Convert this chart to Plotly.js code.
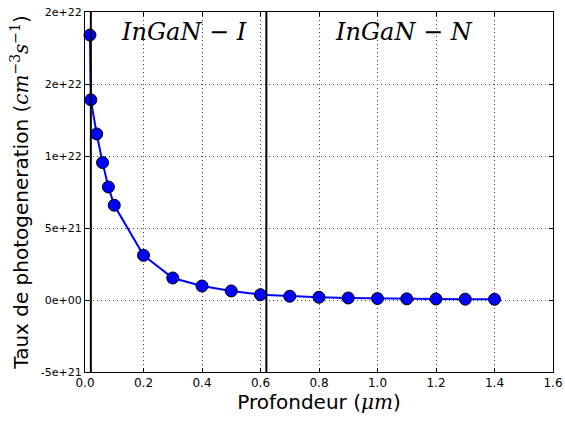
<!DOCTYPE html>
<html>
<head>
<meta charset="utf-8">
<script src="https://cdn.plot.ly/plotly-3.0.1.min.js"></script>
<style>html,body{margin:0;padding:0;background:#fff;}#chart{width:565px;height:421px;}</style>
</head>
<body>
<div id="chart"></div>
<script>
// Data
const depth = [0.017, 0.02, 0.04, 0.06, 0.08, 0.1, 0.2, 0.3, 0.4, 0.5, 0.6, 0.7, 0.8, 0.9, 1.0, 1.1, 1.2, 1.3, 1.4];
const generation = [1.84e22, 1.39e22, 1.153e22, 9.54e21, 7.85e21, 6.58e21, 3.1e21, 1.53e21, 9.7e20, 6.3e20, 3.7e20, 2.6e20, 1.9e20, 1.4e20, 1.0e20, 8e19, 7e19, 6e19, 5e19];
const boundaries = [0.02, 0.62];
const regionLabels = ["InGaN − I", "InGaN − N"];
const regionLabelX = [0.34, 1.09];
const yTickVals = [-5e21, 0, 5e21, 1e22, 1.5e22, 2e22];
const yTickText = ["-5e+21", "0e+00", "5e+21", "1e+22", "2e+22", "2e+22"];
const xTickVals = [0, 0.2, 0.4, 0.6, 0.8, 1.0, 1.2, 1.4, 1.6];
const xTickText = ["0.0", "0.2", "0.4", "0.6", "0.8", "1.0", "1.2", "1.4", "1.6"];

const mathFont = "'DejaVu Serif', 'Liberation Serif', serif";

const trace = {
  x: depth, y: generation, type: 'scatter', mode: 'lines+markers',
  line: {color: '#0000ff', width: 2},
  marker: {color: '#0000ff', size: 12, line: {color: '#000', width: 1}},
  showlegend: false, cliponaxis: false
};

const shapes = boundaries.map(b => ({
  type: 'line', xref: 'x', yref: 'paper', x0: b, x1: b, y0: 0, y1: 1,
  line: {color: '#000', width: 2}
}));

const annotations = regionLabels.map((t, i) => ({
  xref: 'x', yref: 'paper', x: regionLabelX[i], y: 0.945,
  text: '<i>' + t + '</i>', showarrow: false,
  font: {family: mathFont, size: 24, color: '#000'},
  xanchor: 'center', yanchor: 'middle'
}));

const layout = {
  width: 565, height: 421,
  margin: {l: 85, r: 12, t: 12, b: 49},
  paper_bgcolor: '#fff', plot_bgcolor: '#fff',
  font: {family: "'DejaVu Sans', sans-serif", color: '#000'},
  xaxis: {
    range: [0, 1.6], tickvals: xTickVals, ticktext: xTickText,
    ticks: 'inside', ticklen: 4, tickcolor: '#000', mirror: 'ticks',
    showline: true, linecolor: '#000', linewidth: 1,
    showgrid: true, gridcolor: '#444', griddash: '1px,3px', gridwidth: 1,
    zeroline: false, tickfont: {size: 12},
    title: {text: 'Profondeur (<span style="font-family:DejaVu Serif"><i>μm</i></span>)', font: {size: 20}, standoff: 4}
  },
  yaxis: {
    range: [-5e21, 2e22], tickvals: yTickVals, ticktext: yTickText,
    ticks: 'inside', ticklen: 4, tickcolor: '#000', mirror: 'ticks',
    showline: true, linecolor: '#000', linewidth: 1,
    showgrid: true, gridcolor: '#444', griddash: '1px,3px', gridwidth: 1,
    zeroline: false, tickfont: {size: 11},
    title: {text: 'Taux de photogeneration (<span style="font-family:DejaVu Serif"><i>cm</i><sup>−3</sup><i>s</i><sup>−1</sup></span>)', font: {size: 20}, standoff: 6}
  },
  shapes: shapes,
  annotations: annotations
};

Plotly.newPlot('chart', [trace], layout, {staticPlot: true, displayModeBar: false});
</script>
</body>
</html>
